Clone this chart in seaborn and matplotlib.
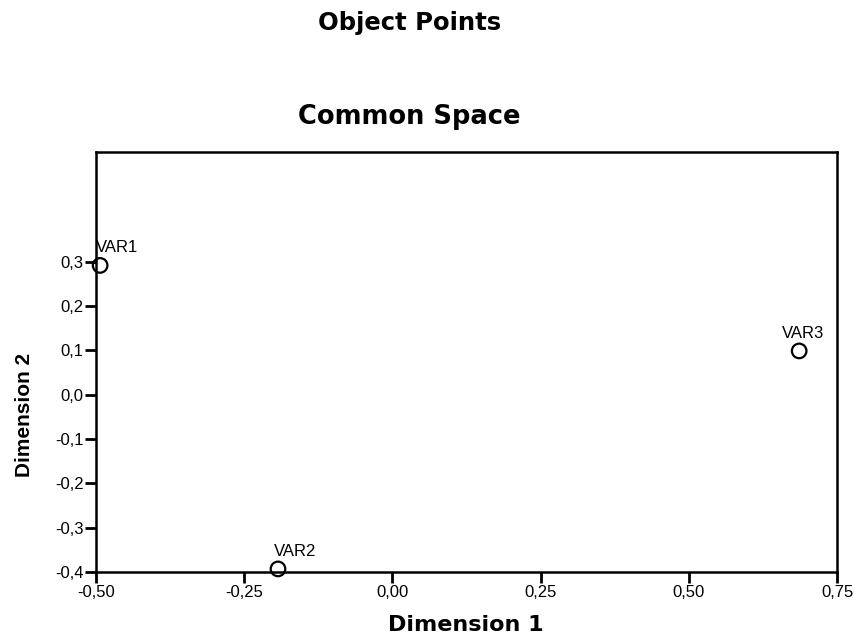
import matplotlib
matplotlib.use('Agg')
import pandas as pd
import seaborn as sns
import matplotlib.pyplot as plt
from matplotlib.ticker import FuncFormatter

# Object point coordinates
labels = ['VAR1', 'VAR2', 'VAR3']
dim1 = [-0.493, -0.193, 0.686]
dim2 = [0.292, -0.393, 0.099]

df = pd.DataFrame({'label': labels, 'Dimension 1': dim1, 'Dimension 2': dim2})

sns.set_style('white')
plt.rcParams['font.family'] = ['Liberation Sans', 'DejaVu Sans']
plt.rcParams['text.color'] = 'black'

fig = plt.figure(figsize=(8.57, 6.41), dpi=100)
ax = fig.add_axes([0.112, 0.1076, 0.8648, 0.6553])

sns.scatterplot(data=df, x='Dimension 1', y='Dimension 2', ax=ax,
                marker='o', s=110, facecolor='none', edgecolor='black',
                linewidth=1.6, clip_on=False, zorder=3)

# label offsets in pixels (VAR3 is pushed left to stay inside the box)
offsets = [(-4, 10), (-4, 10), (-17, 10)]
for lab, x, y, (dx, dy) in zip(labels, dim1, dim2, offsets):
    ax.annotate(lab, (x, y), xytext=(dx, dy), textcoords='offset pixels',
                ha='left', va='bottom', fontsize=12, color='black')

ax.set_xlim(-0.5, 0.75)
ax.set_ylim(-0.4, 0.548)
ax.set_xticks([-0.5, -0.25, 0.0, 0.25, 0.5, 0.75])
ax.set_yticks([-0.4, -0.3, -0.2, -0.1, 0.0, 0.1, 0.2, 0.3])
ax.xaxis.set_major_formatter(FuncFormatter(lambda v, p: f'{v:.2f}'.replace('.', ',')))
ax.yaxis.set_major_formatter(FuncFormatter(lambda v, p: f'{v:.1f}'.replace('.', ',')))
ax.tick_params(direction='out', length=8, width=2, labelsize=12, colors='black',
               left=True, bottom=True, pad=1)
for sp in ax.spines.values():
    sp.set_linewidth(1.8)
    sp.set_color('black')

ax.set_xlabel('')
ax.set_ylabel('')
bold_wide = ['DejaVu Sans']
fig.text(0.544, 0.025, 'Dimension 1', ha='center', va='center',
         fontsize=16, fontweight='bold', family=bold_wide)
fig.text(0.029, 0.353, 'Dimension 2', ha='center', va='center', rotation=90,
         fontsize=15, fontweight='bold', family=['Liberation Sans Narrow', 'Liberation Sans'])
fig.text(0.478, 0.964, 'Object Points', ha='center', va='center',
         fontsize=17.5, fontweight='bold', family=bold_wide)
fig.text(0.478, 0.817, 'Common Space', ha='center', va='center',
         fontsize=18.5, fontweight='bold', family=bold_wide)

fig.savefig('out.png', dpi=100)
